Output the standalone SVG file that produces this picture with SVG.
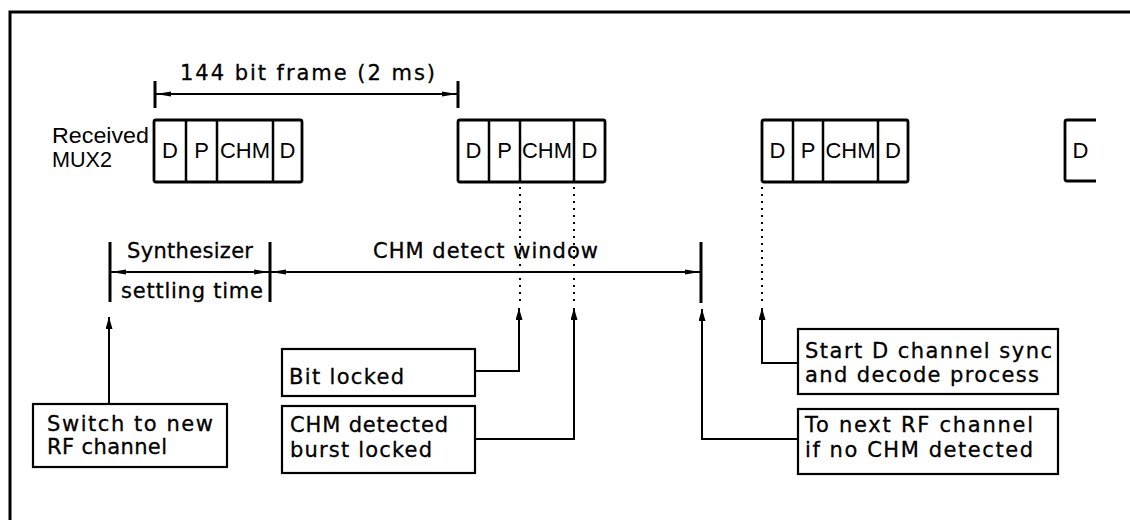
<svg xmlns="http://www.w3.org/2000/svg" width="1130" height="520" viewBox="0 0 1130 520">
  <style>
    .cad { font-family: "DejaVu Sans", "Liberation Sans", sans-serif; font-size: 21px; fill: #000; stroke: #000; stroke-width: 0.3; }
    .ar { font-family: "Liberation Sans", Arial, sans-serif; font-size: 22px; fill: #000; }
    .frame { fill: #fff; stroke: #000; stroke-width: 2.8; stroke-linejoin: round; }
    .div { stroke: #000; stroke-width: 2.5; }
    .box { fill: #fff; stroke: #000; stroke-width: 2.2; }
    .dim { fill: none; stroke: #000; stroke-width: 2.2; marker-start: url(#dimArrow); marker-end: url(#dimArrow); }
    .tick { stroke: #000; stroke-width: 3; }
    .dot { stroke: #000; stroke-width: 2; stroke-dasharray: 2 5; }
    .conn { fill: none; stroke: #000; stroke-width: 2; marker-end: url(#upArrow); }
  </style>
  <defs>
    <marker id="dimArrow" markerUnits="userSpaceOnUse" viewBox="0 0 15 6" markerWidth="15" markerHeight="6" refX="15" refY="3" orient="auto-start-reverse">
      <path d="M0,0.5 L15,3 L0,5.5 z" fill="#000"/>
    </marker>
    <marker id="upArrow" markerUnits="userSpaceOnUse" viewBox="0 0 12 7" markerWidth="12" markerHeight="7" refX="12" refY="3.5" orient="auto">
      <path d="M0,0 L12,3.5 L0,7 z" fill="#000"/>
    </marker>
  </defs>

  <rect width="1130" height="520" fill="#fff"/>
  <!-- border -->
  <path d="M10,520 V12 H1130" fill="none" stroke="#000" stroke-width="3"/>

  <!-- frame dimension -->
  <g id="frame-dimension">
    <line class="tick" x1="155" y1="81" x2="155" y2="108"/>
    <line class="tick" x1="458" y1="81" x2="458" y2="108"/>
    <line class="dim" x1="156" y1="94" x2="457" y2="94"/>
    <text class="cad" x="180" y="80" textLength="255" lengthAdjust="spacing">144 bit frame (2 ms)</text>
  </g>

  <g id="label-received">
    <text class="ar" x="52" y="143" textLength="97" lengthAdjust="spacingAndGlyphs">Received</text>
    <text class="ar" x="52" y="167" textLength="60" lengthAdjust="spacingAndGlyphs">MUX2</text>
  </g>

  <!-- frames -->
  <g id="frame1">
    <rect class="frame" x="154" y="120" width="148" height="62" rx="2"/>
    <line class="div" x1="186" y1="120" x2="186" y2="182"/>
    <line class="div" x1="217" y1="120" x2="217" y2="182"/>
    <line class="div" x1="273" y1="120" x2="273" y2="182"/>
    <text class="ar" x="170" y="158" text-anchor="middle">D</text>
    <text class="ar" x="201.5" y="158" text-anchor="middle">P</text>
    <text class="ar" x="245" y="158" text-anchor="middle" textLength="50" lengthAdjust="spacingAndGlyphs">CHM</text>
    <text class="ar" x="287.5" y="158" text-anchor="middle">D</text>
  </g>
  <g id="frame2">
    <rect class="frame" x="458" y="120" width="147" height="62" rx="2"/>
    <line class="div" x1="489" y1="120" x2="489" y2="182"/>
    <line class="div" x1="520" y1="120" x2="520" y2="182"/>
    <line class="div" x1="574" y1="120" x2="574" y2="182"/>
    <text class="ar" x="473.5" y="158" text-anchor="middle">D</text>
    <text class="ar" x="504.5" y="158" text-anchor="middle">P</text>
    <text class="ar" x="547" y="158" text-anchor="middle" textLength="50" lengthAdjust="spacingAndGlyphs">CHM</text>
    <text class="ar" x="589.5" y="158" text-anchor="middle">D</text>
  </g>
  <g id="frame3">
    <rect class="frame" x="762" y="120" width="146" height="62" rx="2"/>
    <line class="div" x1="793" y1="120" x2="793" y2="182"/>
    <line class="div" x1="823" y1="120" x2="823" y2="182"/>
    <line class="div" x1="878" y1="120" x2="878" y2="182"/>
    <text class="ar" x="777.5" y="158" text-anchor="middle">D</text>
    <text class="ar" x="808" y="158" text-anchor="middle">P</text>
    <text class="ar" x="850.5" y="158" text-anchor="middle" textLength="50" lengthAdjust="spacingAndGlyphs">CHM</text>
    <text class="ar" x="893" y="158" text-anchor="middle">D</text>
  </g>
  <g id="frame4">
    <path d="M1096,120 H1067 Q1065,120 1065,122 V179 Q1065,181 1067,181 H1096" fill="none" stroke="#000" stroke-width="2.8"/>
    <text class="ar" x="1080.5" y="158" text-anchor="middle">D</text>
  </g>

  <!-- timing dimensions -->
  <g id="synth-dimension">
    <line class="tick" x1="110" y1="242" x2="110" y2="302"/>
    <line class="tick" x1="270" y1="242" x2="270" y2="302"/>
    <line class="dim" x1="111" y1="272" x2="269" y2="272"/>
    <text class="cad" x="127" y="258" textLength="126" lengthAdjust="spacing">Synthesizer</text>
    <text class="cad" x="121" y="298" textLength="142" lengthAdjust="spacing">settling time</text>
  </g>
  <g id="chm-window">
    <line class="tick" x1="701" y1="242" x2="701" y2="303"/>
    <line class="dim" x1="271" y1="272" x2="700" y2="272"/>
    <text class="cad" x="373" y="258" textLength="225" lengthAdjust="spacing">CHM detect window</text>
  </g>

  <!-- nodes -->
  <g id="box-switch">
    <rect class="box" x="33" y="404" width="194" height="63"/>
    <text class="cad" x="47" y="431" textLength="166" lengthAdjust="spacing">Switch to new</text>
    <text class="cad" x="47" y="454" textLength="120" lengthAdjust="spacing">RF channel</text>
  </g>
  <g id="box-bit">
    <rect class="box" x="282" y="349" width="193" height="47"/>
    <text class="cad" x="289" y="384" textLength="115" lengthAdjust="spacing">Bit locked</text>
  </g>
  <g id="box-chm">
    <rect class="box" x="282" y="406" width="193" height="67"/>
    <text class="cad" x="290" y="432" textLength="158" lengthAdjust="spacing">CHM detected</text>
    <text class="cad" x="290" y="457" textLength="142" lengthAdjust="spacing">burst locked</text>
  </g>
  <g id="box-start">
    <rect class="box" x="798" y="329" width="260" height="65"/>
    <text class="cad" x="805" y="358" textLength="247" lengthAdjust="spacing">Start D channel sync</text>
    <text class="cad" x="805" y="382" textLength="234" lengthAdjust="spacing">and decode process</text>
  </g>
  <g id="box-next">
    <rect class="box" x="798" y="409" width="260" height="65"/>
    <text class="cad" x="805" y="432" textLength="228" lengthAdjust="spacing">To next RF channel</text>
    <text class="cad" x="805" y="457" textLength="228" lengthAdjust="spacing">if no CHM detected</text>
  </g>

  <!-- connectors -->
  <g id="connectors">
    <line class="dot" x1="520" y1="187" x2="520" y2="302"/>
    <line class="dot" x1="574" y1="187" x2="574" y2="302"/>
    <line class="dot" x1="762" y1="187" x2="762" y2="302"/>
    <path class="conn" d="M109,404 V317"/>
    <path class="conn" d="M475,371 H519 V308"/>
    <path class="conn" d="M475,439 H574 V308"/>
    <path class="conn" d="M798,439 H702 V309"/>
    <path class="conn" d="M798,363 H762 V308"/>
  </g>
</svg>
